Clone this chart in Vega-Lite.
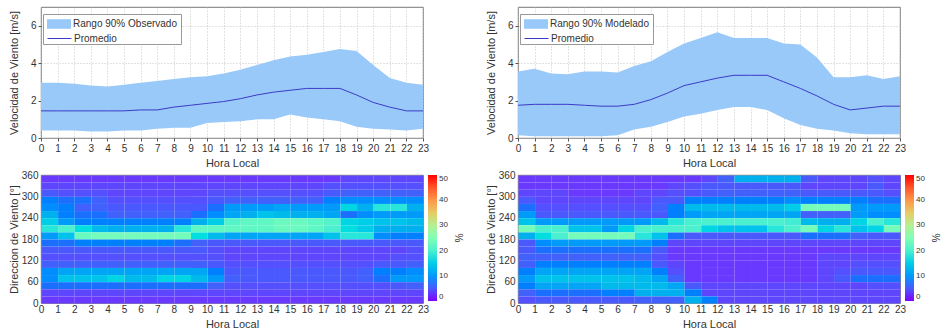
{
  "$schema": "https://vega.github.io/schema/vega-lite/v6.json",
  "padding": {"left": 7, "top": 6, "right": 0, "bottom": 0},
  "background": "white",
  "config": {
    "font": "Liberation Sans",
    "view": {"stroke": "#555", "strokeWidth": 0.8},
    "axis": {"labelFontSize": 10, "titleFontSize": 11, "titleFontWeight": "normal", "labelColor": "#333", "titleColor": "#333", "domain": false, "tickColor": "#555", "tickSize": 3, "gridColor": "#b8b8b8", "gridDash": [1, 2], "gridWidth": 0.8, "labelOverlap": false, "labelFlush": false},
    "legend": {"labelFontSize": 9, "titleFontSize": 10, "titleFontWeight": "normal", "labelColor": "#333", "titleColor": "#333"}
  },
  "datasets": {
    "so": [
      {"h":0,"lo":0.4,"hi":2.95,"m":1.45},{"h":1,"lo":0.4,"hi":2.95,"m":1.45},{"h":2,"lo":0.4,"hi":2.9,"m":1.45},{"h":3,"lo":0.35,"hi":2.8,"m":1.45},{"h":4,"lo":0.35,"hi":2.75,"m":1.45},{"h":5,"lo":0.4,"hi":2.85,"m":1.45},{"h":6,"lo":0.4,"hi":2.95,"m":1.5},{"h":7,"lo":0.5,"hi":3.05,"m":1.5},{"h":8,"lo":0.55,"hi":3.15,"m":1.65},{"h":9,"lo":0.55,"hi":3.25,"m":1.75},{"h":10,"lo":0.8,"hi":3.3,"m":1.85},{"h":11,"lo":0.85,"hi":3.45,"m":1.95},{"h":12,"lo":0.9,"hi":3.65,"m":2.1},{"h":13,"lo":1.0,"hi":3.9,"m":2.3},{"h":14,"lo":1.0,"hi":4.15,"m":2.45},{"h":15,"lo":1.25,"hi":4.35,"m":2.55},{"h":16,"lo":1.1,"hi":4.45,"m":2.65},{"h":17,"lo":1.0,"hi":4.6,"m":2.65},{"h":18,"lo":0.9,"hi":4.75,"m":2.65},{"h":19,"lo":0.6,"hi":4.65,"m":2.3},{"h":20,"lo":0.5,"hi":3.9,"m":1.9},{"h":21,"lo":0.45,"hi":3.2,"m":1.65},{"h":22,"lo":0.4,"hi":2.95,"m":1.45},{"h":23,"lo":0.5,"hi":2.85,"m":1.45}
    ],
    "sm": [
      {"h":0,"lo":0.15,"hi":3.55,"m":1.75},{"h":1,"lo":0.1,"hi":3.7,"m":1.8},{"h":2,"lo":0.1,"hi":3.45,"m":1.8},{"h":3,"lo":0.1,"hi":3.4,"m":1.8},{"h":4,"lo":0.1,"hi":3.55,"m":1.75},{"h":5,"lo":0.1,"hi":3.55,"m":1.7},{"h":6,"lo":0.15,"hi":3.5,"m":1.7},{"h":7,"lo":0.45,"hi":3.85,"m":1.8},{"h":8,"lo":0.6,"hi":4.1,"m":2.05},{"h":9,"lo":0.85,"hi":4.6,"m":2.4},{"h":10,"lo":1.15,"hi":5.05,"m":2.8},{"h":11,"lo":1.3,"hi":5.35,"m":3.0},{"h":12,"lo":1.5,"hi":5.65,"m":3.2},{"h":13,"lo":1.65,"hi":5.35,"m":3.35},{"h":14,"lo":1.65,"hi":5.35,"m":3.35},{"h":15,"lo":1.5,"hi":5.35,"m":3.35},{"h":16,"lo":1.05,"hi":5.05,"m":3.0},{"h":17,"lo":0.7,"hi":5.0,"m":2.65},{"h":18,"lo":0.5,"hi":4.3,"m":2.25},{"h":19,"lo":0.4,"hi":3.25,"m":1.8},{"h":20,"lo":0.25,"hi":3.25,"m":1.5},{"h":21,"lo":0.2,"hi":3.35,"m":1.6},{"h":22,"lo":0.2,"hi":3.15,"m":1.7},{"h":23,"lo":0.2,"hi":3.3,"m":1.7}
    ],
    "ho": [
      {"h":0,"d":340,"v":2},{"h":1,"d":340,"v":2},{"h":2,"d":340,"v":2},{"h":3,"d":340,"v":2},{"h":4,"d":340,"v":2},{"h":5,"d":340,"v":2},{"h":6,"d":340,"v":2},{"h":7,"d":340,"v":2},{"h":8,"d":340,"v":2},{"h":9,"d":340,"v":2},{"h":10,"d":340,"v":2},{"h":11,"d":340,"v":2},{"h":12,"d":340,"v":2},{"h":13,"d":340,"v":2},{"h":14,"d":340,"v":2},{"h":15,"d":340,"v":2},{"h":16,"d":340,"v":2},{"h":17,"d":340,"v":2},{"h":18,"d":340,"v":3},{"h":19,"d":340,"v":3},{"h":20,"d":340,"v":3},{"h":21,"d":340,"v":3},{"h":22,"d":340,"v":3},
      {"h":0,"d":320,"v":3},{"h":1,"d":320,"v":3},{"h":2,"d":320,"v":3},{"h":3,"d":320,"v":3},{"h":4,"d":320,"v":3},{"h":5,"d":320,"v":3},{"h":6,"d":320,"v":3},{"h":7,"d":320,"v":3},{"h":8,"d":320,"v":3},{"h":9,"d":320,"v":3},{"h":10,"d":320,"v":3},{"h":11,"d":320,"v":3},{"h":12,"d":320,"v":3},{"h":13,"d":320,"v":3},{"h":14,"d":320,"v":3},{"h":15,"d":320,"v":3},{"h":16,"d":320,"v":3},{"h":17,"d":320,"v":4},{"h":18,"d":320,"v":4},{"h":19,"d":320,"v":4},{"h":20,"d":320,"v":4},{"h":21,"d":320,"v":4},{"h":22,"d":320,"v":4},
      {"h":0,"d":300,"v":5},{"h":1,"d":300,"v":4},{"h":2,"d":300,"v":4},{"h":3,"d":300,"v":4},{"h":4,"d":300,"v":3},{"h":5,"d":300,"v":3},{"h":6,"d":300,"v":3},{"h":7,"d":300,"v":3},{"h":8,"d":300,"v":3},{"h":9,"d":300,"v":3},{"h":10,"d":300,"v":4},{"h":11,"d":300,"v":4},{"h":12,"d":300,"v":4},{"h":13,"d":300,"v":4},{"h":14,"d":300,"v":4},{"h":15,"d":300,"v":4},{"h":16,"d":300,"v":4},{"h":17,"d":300,"v":5},{"h":18,"d":300,"v":6},{"h":19,"d":300,"v":6},{"h":20,"d":300,"v":6},{"h":21,"d":300,"v":6},{"h":22,"d":300,"v":6},
      {"h":0,"d":280,"v":8},{"h":1,"d":280,"v":7},{"h":2,"d":280,"v":7},{"h":3,"d":280,"v":6},{"h":4,"d":280,"v":4},{"h":5,"d":280,"v":4},{"h":6,"d":280,"v":4},{"h":7,"d":280,"v":4},{"h":8,"d":280,"v":4},{"h":9,"d":280,"v":4},{"h":10,"d":280,"v":5},{"h":11,"d":280,"v":6},{"h":12,"d":280,"v":6},{"h":13,"d":280,"v":6},{"h":14,"d":280,"v":6},{"h":15,"d":280,"v":6},{"h":16,"d":280,"v":6},{"h":17,"d":280,"v":8},{"h":18,"d":280,"v":9},{"h":19,"d":280,"v":9},{"h":20,"d":280,"v":9},{"h":21,"d":280,"v":9},{"h":22,"d":280,"v":9},
      {"h":0,"d":260,"v":9},{"h":1,"d":260,"v":8},{"h":2,"d":260,"v":6},{"h":3,"d":260,"v":6},{"h":4,"d":260,"v":5},{"h":5,"d":260,"v":5},{"h":6,"d":260,"v":5},{"h":7,"d":260,"v":5},{"h":8,"d":260,"v":5},{"h":9,"d":260,"v":5},{"h":10,"d":260,"v":7},{"h":11,"d":260,"v":10},{"h":12,"d":260,"v":10},{"h":13,"d":260,"v":10},{"h":14,"d":260,"v":11},{"h":15,"d":260,"v":10},{"h":16,"d":260,"v":10},{"h":17,"d":260,"v":10},{"h":18,"d":260,"v":16},{"h":19,"d":260,"v":12},{"h":20,"d":260,"v":18},{"h":21,"d":260,"v":18},{"h":22,"d":260,"v":12},
      {"h":0,"d":240,"v":12},{"h":1,"d":240,"v":8},{"h":2,"d":240,"v":7},{"h":3,"d":240,"v":7},{"h":4,"d":240,"v":6},{"h":5,"d":240,"v":6},{"h":6,"d":240,"v":6},{"h":7,"d":240,"v":6},{"h":8,"d":240,"v":6},{"h":9,"d":240,"v":7},{"h":10,"d":240,"v":9},{"h":11,"d":240,"v":11},{"h":12,"d":240,"v":12},{"h":13,"d":240,"v":14},{"h":14,"d":240,"v":13},{"h":15,"d":240,"v":12},{"h":16,"d":240,"v":12},{"h":17,"d":240,"v":11},{"h":18,"d":240,"v":7},{"h":19,"d":240,"v":9},{"h":20,"d":240,"v":10},{"h":21,"d":240,"v":10},{"h":22,"d":240,"v":10},
      {"h":0,"d":220,"v":15},{"h":1,"d":220,"v":10},{"h":2,"d":220,"v":8},{"h":3,"d":220,"v":8},{"h":4,"d":220,"v":8},{"h":5,"d":220,"v":8},{"h":6,"d":220,"v":8},{"h":7,"d":220,"v":8},{"h":8,"d":220,"v":8},{"h":9,"d":220,"v":12},{"h":10,"d":220,"v":15},{"h":11,"d":220,"v":21},{"h":12,"d":220,"v":22},{"h":13,"d":220,"v":22},{"h":14,"d":220,"v":23},{"h":15,"d":220,"v":23},{"h":16,"d":220,"v":22},{"h":17,"d":220,"v":21},{"h":18,"d":220,"v":16},{"h":19,"d":220,"v":15},{"h":20,"d":220,"v":14},{"h":21,"d":220,"v":14},{"h":22,"d":220,"v":13},
      {"h":0,"d":200,"v":18},{"h":1,"d":200,"v":20},{"h":2,"d":200,"v":17},{"h":3,"d":200,"v":13},{"h":4,"d":200,"v":12},{"h":5,"d":200,"v":12},{"h":6,"d":200,"v":12},{"h":7,"d":200,"v":12},{"h":8,"d":200,"v":18},{"h":9,"d":200,"v":22},{"h":10,"d":200,"v":22},{"h":11,"d":200,"v":22},{"h":12,"d":200,"v":22},{"h":13,"d":200,"v":22},{"h":14,"d":200,"v":23},{"h":15,"d":200,"v":23},{"h":16,"d":200,"v":22},{"h":17,"d":200,"v":20},{"h":18,"d":200,"v":17},{"h":19,"d":200,"v":15},{"h":20,"d":200,"v":12},{"h":21,"d":200,"v":12},{"h":22,"d":200,"v":12},
      {"h":0,"d":180,"v":10},{"h":1,"d":180,"v":14},{"h":2,"d":180,"v":23},{"h":3,"d":180,"v":24},{"h":4,"d":180,"v":24},{"h":5,"d":180,"v":24},{"h":6,"d":180,"v":24},{"h":7,"d":180,"v":24},{"h":8,"d":180,"v":24},{"h":9,"d":180,"v":17},{"h":10,"d":180,"v":13},{"h":11,"d":180,"v":11},{"h":12,"d":180,"v":11},{"h":13,"d":180,"v":11},{"h":14,"d":180,"v":11},{"h":15,"d":180,"v":11},{"h":16,"d":180,"v":11},{"h":17,"d":180,"v":14},{"h":18,"d":180,"v":18},{"h":19,"d":180,"v":18},{"h":20,"d":180,"v":9},{"h":21,"d":180,"v":8},{"h":22,"d":180,"v":8},
      {"h":0,"d":160,"v":7},{"h":1,"d":160,"v":7},{"h":2,"d":160,"v":8},{"h":3,"d":160,"v":8},{"h":4,"d":160,"v":8},{"h":5,"d":160,"v":8},{"h":6,"d":160,"v":8},{"h":7,"d":160,"v":8},{"h":8,"d":160,"v":7},{"h":9,"d":160,"v":6},{"h":10,"d":160,"v":5},{"h":11,"d":160,"v":5},{"h":12,"d":160,"v":5},{"h":13,"d":160,"v":5},{"h":14,"d":160,"v":5},{"h":15,"d":160,"v":5},{"h":16,"d":160,"v":5},{"h":17,"d":160,"v":5},{"h":18,"d":160,"v":5},{"h":19,"d":160,"v":5},{"h":20,"d":160,"v":5},{"h":21,"d":160,"v":5},{"h":22,"d":160,"v":5},
      {"h":0,"d":140,"v":5},{"h":1,"d":140,"v":5},{"h":2,"d":140,"v":5},{"h":3,"d":140,"v":5},{"h":4,"d":140,"v":5},{"h":5,"d":140,"v":5},{"h":6,"d":140,"v":5},{"h":7,"d":140,"v":5},{"h":8,"d":140,"v":5},{"h":9,"d":140,"v":5},{"h":10,"d":140,"v":4},{"h":11,"d":140,"v":3},{"h":12,"d":140,"v":3},{"h":13,"d":140,"v":3},{"h":14,"d":140,"v":3},{"h":15,"d":140,"v":3},{"h":16,"d":140,"v":3},{"h":17,"d":140,"v":3},{"h":18,"d":140,"v":3},{"h":19,"d":140,"v":3},{"h":20,"d":140,"v":3},{"h":21,"d":140,"v":3},{"h":22,"d":140,"v":4},
      {"h":0,"d":120,"v":4},{"h":1,"d":120,"v":4},{"h":2,"d":120,"v":4},{"h":3,"d":120,"v":4},{"h":4,"d":120,"v":4},{"h":5,"d":120,"v":4},{"h":6,"d":120,"v":4},{"h":7,"d":120,"v":4},{"h":8,"d":120,"v":4},{"h":9,"d":120,"v":4},{"h":10,"d":120,"v":4},{"h":11,"d":120,"v":3},{"h":12,"d":120,"v":3},{"h":13,"d":120,"v":3},{"h":14,"d":120,"v":3},{"h":15,"d":120,"v":3},{"h":16,"d":120,"v":3},{"h":17,"d":120,"v":3},{"h":18,"d":120,"v":3},{"h":19,"d":120,"v":3},{"h":20,"d":120,"v":3},{"h":21,"d":120,"v":4},{"h":22,"d":120,"v":4},
      {"h":0,"d":100,"v":6},{"h":1,"d":100,"v":6},{"h":2,"d":100,"v":6},{"h":3,"d":100,"v":6},{"h":4,"d":100,"v":6},{"h":5,"d":100,"v":6},{"h":6,"d":100,"v":6},{"h":7,"d":100,"v":6},{"h":8,"d":100,"v":6},{"h":9,"d":100,"v":6},{"h":10,"d":100,"v":5},{"h":11,"d":100,"v":4},{"h":12,"d":100,"v":4},{"h":13,"d":100,"v":4},{"h":14,"d":100,"v":4},{"h":15,"d":100,"v":4},{"h":16,"d":100,"v":4},{"h":17,"d":100,"v":4},{"h":18,"d":100,"v":4},{"h":19,"d":100,"v":4},{"h":20,"d":100,"v":5},{"h":21,"d":100,"v":5},{"h":22,"d":100,"v":6},
      {"h":0,"d":80,"v":9},{"h":1,"d":80,"v":11},{"h":2,"d":80,"v":11},{"h":3,"d":80,"v":11},{"h":4,"d":80,"v":11},{"h":5,"d":80,"v":11},{"h":6,"d":80,"v":11},{"h":7,"d":80,"v":11},{"h":8,"d":80,"v":11},{"h":9,"d":80,"v":11},{"h":10,"d":80,"v":8},{"h":11,"d":80,"v":5},{"h":12,"d":80,"v":5},{"h":13,"d":80,"v":5},{"h":14,"d":80,"v":5},{"h":15,"d":80,"v":5},{"h":16,"d":80,"v":5},{"h":17,"d":80,"v":5},{"h":18,"d":80,"v":5},{"h":19,"d":80,"v":6},{"h":20,"d":80,"v":8},{"h":21,"d":80,"v":8},{"h":22,"d":80,"v":9},
      {"h":0,"d":60,"v":9},{"h":1,"d":60,"v":14},{"h":2,"d":60,"v":14},{"h":3,"d":60,"v":14},{"h":4,"d":60,"v":16},{"h":5,"d":60,"v":13},{"h":6,"d":60,"v":13},{"h":7,"d":60,"v":16},{"h":8,"d":60,"v":16},{"h":9,"d":60,"v":13},{"h":10,"d":60,"v":10},{"h":11,"d":60,"v":6},{"h":12,"d":60,"v":5},{"h":13,"d":60,"v":5},{"h":14,"d":60,"v":5},{"h":15,"d":60,"v":5},{"h":16,"d":60,"v":5},{"h":17,"d":60,"v":5},{"h":18,"d":60,"v":5},{"h":19,"d":60,"v":6},{"h":20,"d":60,"v":7},{"h":21,"d":60,"v":10},{"h":22,"d":60,"v":10},
      {"h":0,"d":40,"v":7},{"h":1,"d":40,"v":7},{"h":2,"d":40,"v":7},{"h":3,"d":40,"v":7},{"h":4,"d":40,"v":7},{"h":5,"d":40,"v":7},{"h":6,"d":40,"v":7},{"h":7,"d":40,"v":7},{"h":8,"d":40,"v":7},{"h":9,"d":40,"v":7},{"h":10,"d":40,"v":6},{"h":11,"d":40,"v":4},{"h":12,"d":40,"v":4},{"h":13,"d":40,"v":4},{"h":14,"d":40,"v":4},{"h":15,"d":40,"v":4},{"h":16,"d":40,"v":4},{"h":17,"d":40,"v":4},{"h":18,"d":40,"v":4},{"h":19,"d":40,"v":4},{"h":20,"d":40,"v":4},{"h":21,"d":40,"v":5},{"h":22,"d":40,"v":6},
      {"h":0,"d":20,"v":3},{"h":1,"d":20,"v":3},{"h":2,"d":20,"v":3},{"h":3,"d":20,"v":3},{"h":4,"d":20,"v":3},{"h":5,"d":20,"v":3},{"h":6,"d":20,"v":3},{"h":7,"d":20,"v":3},{"h":8,"d":20,"v":3},{"h":9,"d":20,"v":3},{"h":10,"d":20,"v":3},{"h":11,"d":20,"v":3},{"h":12,"d":20,"v":3},{"h":13,"d":20,"v":3},{"h":14,"d":20,"v":3},{"h":15,"d":20,"v":3},{"h":16,"d":20,"v":3},{"h":17,"d":20,"v":3},{"h":18,"d":20,"v":3},{"h":19,"d":20,"v":3},{"h":20,"d":20,"v":3},{"h":21,"d":20,"v":3},{"h":22,"d":20,"v":3},
      {"h":0,"d":0,"v":2},{"h":1,"d":0,"v":2},{"h":2,"d":0,"v":2},{"h":3,"d":0,"v":2},{"h":4,"d":0,"v":2},{"h":5,"d":0,"v":2},{"h":6,"d":0,"v":2},{"h":7,"d":0,"v":2},{"h":8,"d":0,"v":2},{"h":9,"d":0,"v":2},{"h":10,"d":0,"v":2},{"h":11,"d":0,"v":2},{"h":12,"d":0,"v":2},{"h":13,"d":0,"v":2},{"h":14,"d":0,"v":2},{"h":15,"d":0,"v":2},{"h":16,"d":0,"v":2},{"h":17,"d":0,"v":2},{"h":18,"d":0,"v":2},{"h":19,"d":0,"v":2},{"h":20,"d":0,"v":2},{"h":21,"d":0,"v":2},{"h":22,"d":0,"v":2}
    ],
    "hm": [
      {"h":0,"d":340,"v":2},{"h":1,"d":340,"v":2},{"h":2,"d":340,"v":2},{"h":3,"d":340,"v":2},{"h":4,"d":340,"v":2},{"h":5,"d":340,"v":2},{"h":6,"d":340,"v":2},{"h":7,"d":340,"v":2},{"h":8,"d":340,"v":2},{"h":9,"d":340,"v":2},{"h":10,"d":340,"v":2},{"h":11,"d":340,"v":3},{"h":12,"d":340,"v":6},{"h":13,"d":340,"v":12},{"h":14,"d":340,"v":12},{"h":15,"d":340,"v":12},{"h":16,"d":340,"v":12},{"h":17,"d":340,"v":5},{"h":18,"d":340,"v":3},{"h":19,"d":340,"v":3},{"h":20,"d":340,"v":3},{"h":21,"d":340,"v":4},{"h":22,"d":340,"v":3},
      {"h":0,"d":320,"v":2},{"h":1,"d":320,"v":2},{"h":2,"d":320,"v":2},{"h":3,"d":320,"v":2},{"h":4,"d":320,"v":2},{"h":5,"d":320,"v":2},{"h":6,"d":320,"v":2},{"h":7,"d":320,"v":2},{"h":8,"d":320,"v":2},{"h":9,"d":320,"v":3},{"h":10,"d":320,"v":4},{"h":11,"d":320,"v":5},{"h":12,"d":320,"v":5},{"h":13,"d":320,"v":5},{"h":14,"d":320,"v":5},{"h":15,"d":320,"v":5},{"h":16,"d":320,"v":5},{"h":17,"d":320,"v":3},{"h":18,"d":320,"v":3},{"h":19,"d":320,"v":3},{"h":20,"d":320,"v":3},{"h":21,"d":320,"v":5},{"h":22,"d":320,"v":3},
      {"h":0,"d":300,"v":3},{"h":1,"d":300,"v":3},{"h":2,"d":300,"v":3},{"h":3,"d":300,"v":2},{"h":4,"d":300,"v":2},{"h":5,"d":300,"v":2},{"h":6,"d":300,"v":2},{"h":7,"d":300,"v":3},{"h":8,"d":300,"v":3},{"h":9,"d":300,"v":4},{"h":10,"d":300,"v":4},{"h":11,"d":300,"v":5},{"h":12,"d":300,"v":6},{"h":13,"d":300,"v":6},{"h":14,"d":300,"v":6},{"h":15,"d":300,"v":6},{"h":16,"d":300,"v":6},{"h":17,"d":300,"v":5},{"h":18,"d":300,"v":5},{"h":19,"d":300,"v":5},{"h":20,"d":300,"v":5},{"h":21,"d":300,"v":5},{"h":22,"d":300,"v":4},
      {"h":0,"d":280,"v":5},{"h":1,"d":280,"v":3},{"h":2,"d":280,"v":3},{"h":3,"d":280,"v":3},{"h":4,"d":280,"v":3},{"h":5,"d":280,"v":3},{"h":6,"d":280,"v":3},{"h":7,"d":280,"v":3},{"h":8,"d":280,"v":5},{"h":9,"d":280,"v":5},{"h":10,"d":280,"v":8},{"h":11,"d":280,"v":8},{"h":12,"d":280,"v":8},{"h":13,"d":280,"v":8},{"h":14,"d":280,"v":8},{"h":15,"d":280,"v":8},{"h":16,"d":280,"v":9},{"h":17,"d":280,"v":8},{"h":18,"d":280,"v":8},{"h":19,"d":280,"v":8},{"h":20,"d":280,"v":8},{"h":21,"d":280,"v":7},{"h":22,"d":280,"v":7},
      {"h":0,"d":260,"v":7},{"h":1,"d":260,"v":4},{"h":2,"d":260,"v":4},{"h":3,"d":260,"v":4},{"h":4,"d":260,"v":4},{"h":5,"d":260,"v":4},{"h":6,"d":260,"v":4},{"h":7,"d":260,"v":4},{"h":8,"d":260,"v":6},{"h":9,"d":260,"v":8},{"h":10,"d":260,"v":13},{"h":11,"d":260,"v":13},{"h":12,"d":260,"v":13},{"h":13,"d":260,"v":13},{"h":14,"d":260,"v":13},{"h":15,"d":260,"v":13},{"h":16,"d":260,"v":15},{"h":17,"d":260,"v":24},{"h":18,"d":260,"v":24},{"h":19,"d":260,"v":24},{"h":20,"d":260,"v":10},{"h":21,"d":260,"v":10},{"h":22,"d":260,"v":10},
      {"h":0,"d":240,"v":10},{"h":1,"d":240,"v":5},{"h":2,"d":240,"v":5},{"h":3,"d":240,"v":5},{"h":4,"d":240,"v":5},{"h":5,"d":240,"v":5},{"h":6,"d":240,"v":5},{"h":7,"d":240,"v":5},{"h":8,"d":240,"v":5},{"h":9,"d":240,"v":8},{"h":10,"d":240,"v":10},{"h":11,"d":240,"v":11},{"h":12,"d":240,"v":11},{"h":13,"d":240,"v":11},{"h":14,"d":240,"v":11},{"h":15,"d":240,"v":11},{"h":16,"d":240,"v":11},{"h":17,"d":240,"v":6},{"h":18,"d":240,"v":6},{"h":19,"d":240,"v":6},{"h":20,"d":240,"v":10},{"h":21,"d":240,"v":9},{"h":22,"d":240,"v":9},
      {"h":0,"d":220,"v":14},{"h":1,"d":220,"v":10},{"h":2,"d":220,"v":10},{"h":3,"d":220,"v":10},{"h":4,"d":220,"v":10},{"h":5,"d":220,"v":10},{"h":6,"d":220,"v":10},{"h":7,"d":220,"v":10},{"h":8,"d":220,"v":13},{"h":9,"d":220,"v":18},{"h":10,"d":220,"v":20},{"h":11,"d":220,"v":20},{"h":12,"d":220,"v":20},{"h":13,"d":220,"v":20},{"h":14,"d":220,"v":20},{"h":15,"d":220,"v":20},{"h":16,"d":220,"v":19},{"h":17,"d":220,"v":13},{"h":18,"d":220,"v":12},{"h":19,"d":220,"v":12},{"h":20,"d":220,"v":16},{"h":21,"d":220,"v":20},{"h":22,"d":220,"v":18},
      {"h":0,"d":200,"v":24},{"h":1,"d":200,"v":20},{"h":2,"d":200,"v":20},{"h":3,"d":200,"v":14},{"h":4,"d":200,"v":14},{"h":5,"d":200,"v":10},{"h":6,"d":200,"v":16},{"h":7,"d":200,"v":20},{"h":8,"d":200,"v":20},{"h":9,"d":200,"v":20},{"h":10,"d":200,"v":20},{"h":11,"d":200,"v":16},{"h":12,"d":200,"v":14},{"h":13,"d":200,"v":14},{"h":14,"d":200,"v":14},{"h":15,"d":200,"v":18},{"h":16,"d":200,"v":20},{"h":17,"d":200,"v":24},{"h":18,"d":200,"v":16},{"h":19,"d":200,"v":18},{"h":20,"d":200,"v":14},{"h":21,"d":200,"v":16},{"h":22,"d":200,"v":24},
      {"h":0,"d":180,"v":12},{"h":1,"d":180,"v":17},{"h":2,"d":180,"v":20},{"h":3,"d":180,"v":24},{"h":4,"d":180,"v":24},{"h":5,"d":180,"v":24},{"h":6,"d":180,"v":24},{"h":7,"d":180,"v":18},{"h":8,"d":180,"v":14},{"h":9,"d":180,"v":7},{"h":10,"d":180,"v":5},{"h":11,"d":180,"v":5},{"h":12,"d":180,"v":5},{"h":13,"d":180,"v":5},{"h":14,"d":180,"v":5},{"h":15,"d":180,"v":5},{"h":16,"d":180,"v":5},{"h":17,"d":180,"v":7},{"h":18,"d":180,"v":7},{"h":19,"d":180,"v":7},{"h":20,"d":180,"v":6},{"h":21,"d":180,"v":5},{"h":22,"d":180,"v":5},
      {"h":0,"d":160,"v":5},{"h":1,"d":160,"v":9},{"h":2,"d":160,"v":10},{"h":3,"d":160,"v":10},{"h":4,"d":160,"v":10},{"h":5,"d":160,"v":10},{"h":6,"d":160,"v":10},{"h":7,"d":160,"v":10},{"h":8,"d":160,"v":8},{"h":9,"d":160,"v":3},{"h":10,"d":160,"v":3},{"h":11,"d":160,"v":3},{"h":12,"d":160,"v":3},{"h":13,"d":160,"v":3},{"h":14,"d":160,"v":3},{"h":15,"d":160,"v":3},{"h":16,"d":160,"v":3},{"h":17,"d":160,"v":3},{"h":18,"d":160,"v":3},{"h":19,"d":160,"v":3},{"h":20,"d":160,"v":3},{"h":21,"d":160,"v":3},{"h":22,"d":160,"v":3},
      {"h":0,"d":140,"v":5},{"h":1,"d":140,"v":7},{"h":2,"d":140,"v":7},{"h":3,"d":140,"v":7},{"h":4,"d":140,"v":7},{"h":5,"d":140,"v":7},{"h":6,"d":140,"v":7},{"h":7,"d":140,"v":7},{"h":8,"d":140,"v":5},{"h":9,"d":140,"v":2},{"h":10,"d":140,"v":2},{"h":11,"d":140,"v":2},{"h":12,"d":140,"v":2},{"h":13,"d":140,"v":2},{"h":14,"d":140,"v":2},{"h":15,"d":140,"v":2},{"h":16,"d":140,"v":2},{"h":17,"d":140,"v":2},{"h":18,"d":140,"v":2},{"h":19,"d":140,"v":2},{"h":20,"d":140,"v":2},{"h":21,"d":140,"v":2},{"h":22,"d":140,"v":2},
      {"h":0,"d":120,"v":6},{"h":1,"d":120,"v":6},{"h":2,"d":120,"v":6},{"h":3,"d":120,"v":6},{"h":4,"d":120,"v":6},{"h":5,"d":120,"v":6},{"h":6,"d":120,"v":6},{"h":7,"d":120,"v":6},{"h":8,"d":120,"v":4},{"h":9,"d":120,"v":2},{"h":10,"d":120,"v":2},{"h":11,"d":120,"v":2},{"h":12,"d":120,"v":2},{"h":13,"d":120,"v":2},{"h":14,"d":120,"v":2},{"h":15,"d":120,"v":2},{"h":16,"d":120,"v":2},{"h":17,"d":120,"v":2},{"h":18,"d":120,"v":3},{"h":19,"d":120,"v":3},{"h":20,"d":120,"v":3},{"h":21,"d":120,"v":3},{"h":22,"d":120,"v":3},
      {"h":0,"d":100,"v":6},{"h":1,"d":100,"v":8},{"h":2,"d":100,"v":8},{"h":3,"d":100,"v":8},{"h":4,"d":100,"v":8},{"h":5,"d":100,"v":8},{"h":6,"d":100,"v":8},{"h":7,"d":100,"v":8},{"h":8,"d":100,"v":5},{"h":9,"d":100,"v":3},{"h":10,"d":100,"v":2},{"h":11,"d":100,"v":2},{"h":12,"d":100,"v":2},{"h":13,"d":100,"v":2},{"h":14,"d":100,"v":2},{"h":15,"d":100,"v":2},{"h":16,"d":100,"v":2},{"h":17,"d":100,"v":2},{"h":18,"d":100,"v":3},{"h":19,"d":100,"v":3},{"h":20,"d":100,"v":4},{"h":21,"d":100,"v":4},{"h":22,"d":100,"v":4},
      {"h":0,"d":80,"v":8},{"h":1,"d":80,"v":11},{"h":2,"d":80,"v":11},{"h":3,"d":80,"v":11},{"h":4,"d":80,"v":11},{"h":5,"d":80,"v":11},{"h":6,"d":80,"v":11},{"h":7,"d":80,"v":11},{"h":8,"d":80,"v":8},{"h":9,"d":80,"v":4},{"h":10,"d":80,"v":2},{"h":11,"d":80,"v":2},{"h":12,"d":80,"v":2},{"h":13,"d":80,"v":2},{"h":14,"d":80,"v":2},{"h":15,"d":80,"v":2},{"h":16,"d":80,"v":2},{"h":17,"d":80,"v":2},{"h":18,"d":80,"v":3},{"h":19,"d":80,"v":4},{"h":20,"d":80,"v":5},{"h":21,"d":80,"v":5},{"h":22,"d":80,"v":5},
      {"h":0,"d":60,"v":10},{"h":1,"d":60,"v":14},{"h":2,"d":60,"v":14},{"h":3,"d":60,"v":14},{"h":4,"d":60,"v":14},{"h":5,"d":60,"v":14},{"h":6,"d":60,"v":14},{"h":7,"d":60,"v":13},{"h":8,"d":60,"v":11},{"h":9,"d":60,"v":6},{"h":10,"d":60,"v":2},{"h":11,"d":60,"v":2},{"h":12,"d":60,"v":2},{"h":13,"d":60,"v":2},{"h":14,"d":60,"v":2},{"h":15,"d":60,"v":2},{"h":16,"d":60,"v":2},{"h":17,"d":60,"v":2},{"h":18,"d":60,"v":3},{"h":19,"d":60,"v":5},{"h":20,"d":60,"v":7},{"h":21,"d":60,"v":7},{"h":22,"d":60,"v":7},
      {"h":0,"d":40,"v":8},{"h":1,"d":40,"v":11},{"h":2,"d":40,"v":11},{"h":3,"d":40,"v":11},{"h":4,"d":40,"v":11},{"h":5,"d":40,"v":13},{"h":6,"d":40,"v":13},{"h":7,"d":40,"v":13},{"h":8,"d":40,"v":13},{"h":9,"d":40,"v":11},{"h":10,"d":40,"v":5},{"h":11,"d":40,"v":3},{"h":12,"d":40,"v":3},{"h":13,"d":40,"v":3},{"h":14,"d":40,"v":3},{"h":15,"d":40,"v":3},{"h":16,"d":40,"v":3},{"h":17,"d":40,"v":3},{"h":18,"d":40,"v":3},{"h":19,"d":40,"v":3},{"h":20,"d":40,"v":3},{"h":21,"d":40,"v":4},{"h":22,"d":40,"v":4},
      {"h":0,"d":20,"v":6},{"h":1,"d":20,"v":7},{"h":2,"d":20,"v":7},{"h":3,"d":20,"v":7},{"h":4,"d":20,"v":7},{"h":5,"d":20,"v":8},{"h":6,"d":20,"v":8},{"h":7,"d":20,"v":12},{"h":8,"d":20,"v":12},{"h":9,"d":20,"v":12},{"h":10,"d":20,"v":8},{"h":11,"d":20,"v":3},{"h":12,"d":20,"v":3},{"h":13,"d":20,"v":3},{"h":14,"d":20,"v":3},{"h":15,"d":20,"v":3},{"h":16,"d":20,"v":3},{"h":17,"d":20,"v":3},{"h":18,"d":20,"v":3},{"h":19,"d":20,"v":3},{"h":20,"d":20,"v":3},{"h":21,"d":20,"v":3},{"h":22,"d":20,"v":3},
      {"h":0,"d":0,"v":4},{"h":1,"d":0,"v":5},{"h":2,"d":0,"v":5},{"h":3,"d":0,"v":5},{"h":4,"d":0,"v":5},{"h":5,"d":0,"v":5},{"h":6,"d":0,"v":5},{"h":7,"d":0,"v":6},{"h":8,"d":0,"v":6},{"h":9,"d":0,"v":6},{"h":10,"d":0,"v":12},{"h":11,"d":0,"v":8},{"h":12,"d":0,"v":3},{"h":13,"d":0,"v":3},{"h":14,"d":0,"v":3},{"h":15,"d":0,"v":3},{"h":16,"d":0,"v":3},{"h":17,"d":0,"v":3},{"h":18,"d":0,"v":3},{"h":19,"d":0,"v":3},{"h":20,"d":0,"v":3},{"h":21,"d":0,"v":3},{"h":22,"d":0,"v":3}
    ]
  },
  "spacing": 20,
  "resolve": {"scale": {"color": "independent", "fill": "independent", "stroke": "independent"}, "legend": {"color": "independent", "fill": "independent", "stroke": "independent"}},
  "hconcat": [
    {
      "spacing": 0,
      "resolve": {"scale": {"color": "independent", "fill": "independent", "stroke": "independent"}, "legend": {"color": "independent", "fill": "independent", "stroke": "independent"}},
      "vconcat": [
        {
          "width": 382, "height": 131,
          "data": {"name": "so"},
          "encoding": {
            "x": {"field": "h", "type": "quantitative", "scale": {"domain": [0, 23], "nice": false}, "axis": {"values": [0,1,2,3,4,5,6,7,8,9,10,11,12,13,14,15,16,17,18,19,20,21,22,23], "title": "Hora Local", "grid": true, "labelPadding": 2, "titlePadding": 4}}
          },
          "layer": [
            {
              "mark": {"type": "area", "opacity": 1},
              "encoding": {
                "y": {"field": "lo", "type": "quantitative", "scale": {"domain": [0, 7], "nice": false}, "axis": {"values": [0, 2, 4, 6], "title": "Velocidad de Viento [m/s]", "grid": true, "minExtent": 20, "maxExtent": 20, "titlePadding": 2}},
                "y2": {"field": "hi"},
                "fill": {"datum": "Rango 90% Observado", "scale": {"domain": ["Rango 90% Observado"], "range": ["#99c9f9"]},
                  "legend": {"title": " ", "titleOrient": "bottom", "titleFontSize": 10, "titlePadding": 1, "orient": "none", "legendX": 2, "legendY": 7, "padding": 4, "fillColor": "white", "strokeColor": "#999", "labelFontSize": 10, "symbolType": "M-1,-0.8H3V0.8H-1Z", "symbolSize": 144, "symbolStrokeWidth": 0, "symbolOpacity": 1, "labelOffset": 14}}
              }
            },
            {
              "mark": {"type": "line", "strokeWidth": 1},
              "encoding": {
                "y": {"field": "m", "type": "quantitative", "title": "Velocidad de Viento [m/s]"},
                "stroke": {"datum": "Promedio", "scale": {"domain": ["Promedio"], "range": ["#3b3bc4"]},
                  "legend": {"title": null, "orient": "none", "legendX": 2, "legendY": 21, "padding": 4, "labelFontSize": 10, "symbolType": "M-1,0H3", "symbolSize": 144, "symbolStrokeWidth": 1, "labelOffset": 14}}
              }
            }
          ]
        },
        {
          "width": 382, "height": 128,
          "data": {"name": "ho"},
          "mark": {"type": "rect"},
          "encoding": {
            "x": {"field": "h", "type": "quantitative", "bin": {"step": 1, "extent": [0, 23]}, "scale": {"domain": [0, 23], "nice": false}, "axis": {"values": [0,1,2,3,4,5,6,7,8,9,10,11,12,13,14,15,16,17,18,19,20,21,22,23], "format": "d", "title": "Hora Local", "grid": false, "tickSize": 0, "labelPadding": 1, "titlePadding": 4}},
            "y": {"field": "d", "type": "quantitative", "bin": {"step": 20, "extent": [0, 360]}, "scale": {"domain": [0, 360], "nice": false}, "axis": {"values": [0, 60, 120, 180, 240, 300, 360], "format": "d", "title": "Direccion de Viento [°]", "grid": false, "tickSize": 0, "labelPadding": 3, "minExtent": 20, "maxExtent": 20, "titlePadding": 2}},
            "color": {"field": "v", "type": "quantitative", "scale": {"domain": [0, 50], "range": ["#8000ff", "#4062fa", "#00b5eb", "#40ecd4", "#80ffb4", "#c0eb8d", "#ffb360", "#ff6232", "#ff0000"]},
              "legend": {"title": "%", "values": [0, 10, 20, 30, 40, 50], "gradientLength": 126, "gradientThickness": 9, "offset": 5, "titleOrient": "right", "titleAngle": 90, "gradientStrokeColor": "#999", "labelFontSize": 8}}
          }
        }
      ]
    },
    {
      "spacing": 0,
      "resolve": {"scale": {"color": "independent", "fill": "independent", "stroke": "independent"}, "legend": {"color": "independent", "fill": "independent", "stroke": "independent"}},
      "vconcat": [
        {
          "width": 382, "height": 131,
          "data": {"name": "sm"},
          "encoding": {
            "x": {"field": "h", "type": "quantitative", "scale": {"domain": [0, 23], "nice": false}, "axis": {"values": [0,1,2,3,4,5,6,7,8,9,10,11,12,13,14,15,16,17,18,19,20,21,22,23], "title": "Hora Local", "grid": true, "labelPadding": 2, "titlePadding": 4}}
          },
          "layer": [
            {
              "mark": {"type": "area", "opacity": 1},
              "encoding": {
                "y": {"field": "lo", "type": "quantitative", "scale": {"domain": [0, 7], "nice": false}, "axis": {"values": [0, 2, 4, 6], "title": "Velocidad de Viento [m/s]", "grid": true, "minExtent": 20, "maxExtent": 20, "titlePadding": 2}},
                "y2": {"field": "hi"},
                "fill": {"datum": "Rango 90% Modelado", "scale": {"domain": ["Rango 90% Modelado"], "range": ["#99c9f9"]},
                  "legend": {"title": " ", "titleOrient": "bottom", "titleFontSize": 10, "titlePadding": 1, "orient": "none", "legendX": 2, "legendY": 7, "padding": 4, "fillColor": "white", "strokeColor": "#999", "labelFontSize": 10, "symbolType": "M-1,-0.8H3V0.8H-1Z", "symbolSize": 144, "symbolStrokeWidth": 0, "symbolOpacity": 1, "labelOffset": 14}}
              }
            },
            {
              "mark": {"type": "line", "strokeWidth": 1},
              "encoding": {
                "y": {"field": "m", "type": "quantitative", "title": "Velocidad de Viento [m/s]"},
                "stroke": {"datum": "Promedio", "scale": {"domain": ["Promedio"], "range": ["#3b3bc4"]},
                  "legend": {"title": null, "orient": "none", "legendX": 2, "legendY": 21, "padding": 4, "labelFontSize": 10, "symbolType": "M-1,0H3", "symbolSize": 144, "symbolStrokeWidth": 1, "labelOffset": 14}}
              }
            }
          ]
        },
        {
          "width": 382, "height": 128,
          "data": {"name": "hm"},
          "mark": {"type": "rect"},
          "encoding": {
            "x": {"field": "h", "type": "quantitative", "bin": {"step": 1, "extent": [0, 23]}, "scale": {"domain": [0, 23], "nice": false}, "axis": {"values": [0,1,2,3,4,5,6,7,8,9,10,11,12,13,14,15,16,17,18,19,20,21,22,23], "format": "d", "title": "Hora Local", "grid": false, "tickSize": 0, "labelPadding": 1, "titlePadding": 4}},
            "y": {"field": "d", "type": "quantitative", "bin": {"step": 20, "extent": [0, 360]}, "scale": {"domain": [0, 360], "nice": false}, "axis": {"values": [0, 60, 120, 180, 240, 300, 360], "format": "d", "title": "Direccion de Viento [°]", "grid": false, "tickSize": 0, "labelPadding": 3, "minExtent": 20, "maxExtent": 20, "titlePadding": 2}},
            "color": {"field": "v", "type": "quantitative", "scale": {"domain": [0, 50], "range": ["#8000ff", "#4062fa", "#00b5eb", "#40ecd4", "#80ffb4", "#c0eb8d", "#ffb360", "#ff6232", "#ff0000"]},
              "legend": {"title": "%", "values": [0, 10, 20, 30, 40, 50], "gradientLength": 126, "gradientThickness": 9, "offset": 5, "titleOrient": "right", "titleAngle": 90, "gradientStrokeColor": "#999", "labelFontSize": 8}}
          }
        }
      ]
    }
  ]
}
